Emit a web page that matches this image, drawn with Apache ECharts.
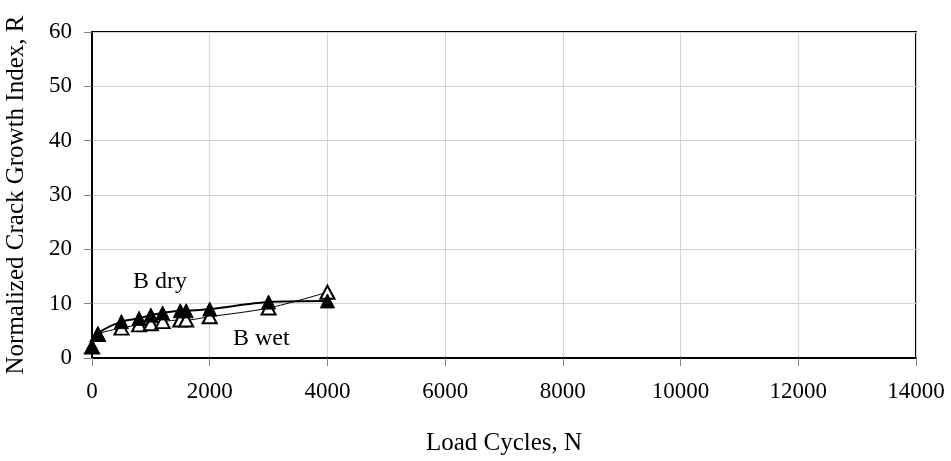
<!DOCTYPE html>
<html>
<head>
<meta charset="utf-8">
<script src="https://cdn.jsdelivr.net/npm/echarts@6/dist/echarts.min.js"></script>
<style>
  html, body { margin: 0; padding: 0; background: #fff; }
  #chart { width: 951px; height: 461px; }
</style>
</head>
<body>
<div id="chart"></div>
<script>
// Load cycles at which the crack growth index was measured
const cycles = [0, 100, 500, 800, 1000, 1200, 1500, 1600, 2000, 3000, 4000];
// Normalized crack growth index R, mixture B
const bDry = [2.1, 4.5, 6.7, 7.3, 7.9, 8.3, 8.7, 8.7, 9.0, 10.3, 10.5];
const bWet = [2.0, 4.3, 5.5, 6.1, 6.3, 6.7, 7.0, 7.0, 7.6, 9.2, 12.1];
const seriesNames = ['B wet', 'B dry'];

const pair = (xs, ys) => xs.map((x, i) => [x, ys[i]]);
const FONT = '"Liberation Serif", "Times New Roman", serif';

const chart = echarts.init(document.getElementById('chart'), null, { renderer: 'canvas' });

chart.setOption({
  animation: false,
  backgroundColor: '#ffffff',
  textStyle: { fontFamily: FONT, color: '#000' },
  grid: {
    left: 92, top: 32, right: 35, bottom: 103,
    containLabel: false, outerBoundsMode: 'none',
    show: true, borderColor: '#000', borderWidth: 2, backgroundColor: 'transparent'
  },
  xAxis: {
    type: 'value', min: 0, max: 14000, interval: 2000,
    name: 'Load Cycles, N', nameLocation: 'middle', nameGap: 73,
    nameTextStyle: { fontFamily: FONT, fontSize: 25, color: '#000' },
    axisLine: { onZero: false, lineStyle: { color: '#000', width: 2 } },
    axisTick: { show: true, length: 8, lineStyle: { color: '#808080', width: 1 } },
    axisLabel: { fontFamily: FONT, fontSize: 23, color: '#000', margin: 22,
      formatter: v => String(v) },
    splitLine: { show: true, lineStyle: { color: '#d4d4d4', width: 1 } }
  },
  yAxis: {
    type: 'value', min: 0, max: 60, interval: 10,
    name: 'Normalized Crack Growth Index, R', nameLocation: 'middle', nameGap: 63,
    nameTextStyle: { fontFamily: FONT, fontSize: 25, color: '#000' },
    axisLine: { show: true, onZero: false, lineStyle: { color: '#000', width: 2 } },
    axisTick: { show: true, length: 8, lineStyle: { color: '#808080', width: 1 } },
    axisLabel: { fontFamily: FONT, fontSize: 23, color: '#000', margin: 20,
      formatter: v => String(v) },
    splitLine: { show: true, lineStyle: { color: '#d4d4d4', width: 1 } }
  },
  series: [
    {
      name: seriesNames[0], type: 'line', data: pair(cycles, bWet),
      smooth: 0.3,
      symbol: 'triangle', symbolSize: [14, 13],
      lineStyle: { color: '#000', width: 1 },
      itemStyle: { color: '#fff', borderColor: '#000', borderWidth: 2 },
      z: 2
    },
    {
      name: seriesNames[1], type: 'line', data: pair(cycles, bDry),
      smooth: 0.3,
      symbol: 'triangle', symbolSize: [14, 14],
      lineStyle: { color: '#000', width: 2 },
      itemStyle: { color: '#000', borderColor: '#000', borderWidth: 1 },
      z: 3
    }
  ],
  graphic: [
    { type: 'text', left: 133, top: 270,
      style: { text: seriesNames[1], font: '24px ' + FONT, fill: '#000' } },
    { type: 'text', left: 233, top: 327,
      style: { text: seriesNames[0], font: '24px ' + FONT, fill: '#000' } }
  ]
});
</script>
</body>
</html>
